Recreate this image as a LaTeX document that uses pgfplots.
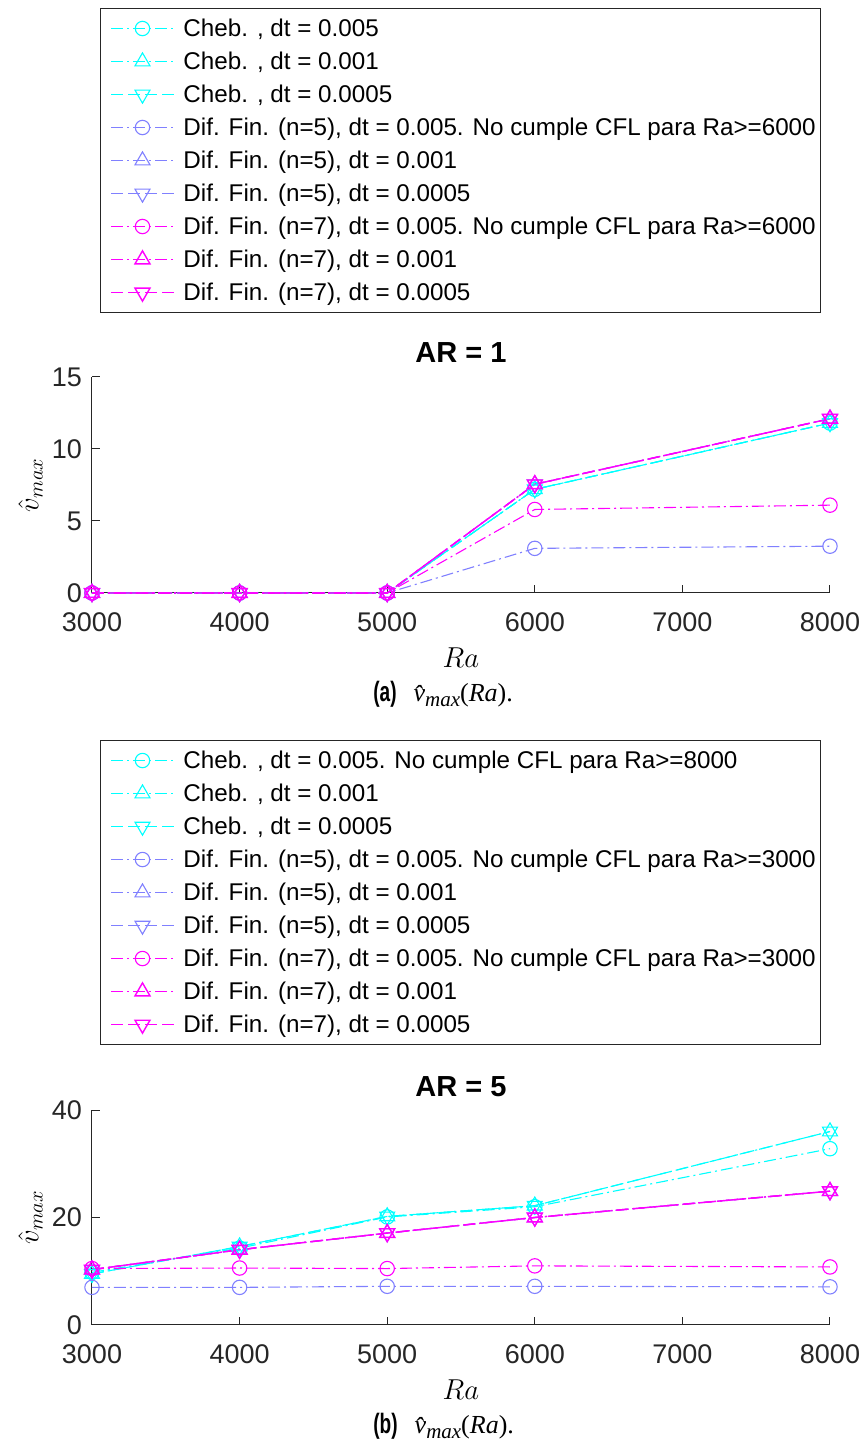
\documentclass[border=0pt]{standalone}
\usepackage{graphicx}
\usepackage{pgfplots}
\pgfplotsset{compat=1.18}
\usepackage{fontspec}
\setmainfont{Liberation Sans}
\newfontfamily\tms{Liberation Serif}
\definecolor{cyn}{rgb}{0,1,1}
\definecolor{lav}{rgb}{0.5,0.5,1}
\definecolor{mag}{rgb}{1,0,1}
\definecolor{axc}{rgb}{0.15,0.15,0.15}

\pgfplotsset{
  myaxis/.style={
    scale only axis, width=369pt,
    xmin=3000, xmax=8000, xtick={3000,4000,5000,6000,7000,8000},
    axis x line*=bottom, axis y line*=left,
    axis line style={axc,-,line width=0.5pt},
    tick align=inside, major tick length=4pt,
    tick style={axc,line width=0.5pt},
    ticklabel style={font=\fontsize{13.5}{15}\selectfont, text=axc},
    /pgf/number format/assume math mode=true,
    /pgf/number format/set thousands separator={},
    scaled ticks=false,
    xticklabel style={yshift=-6.5pt},
    yticklabel style={xshift=-1.5pt},
    title style={font=\bfseries\fontsize{14.5}{16}\selectfont, at={(axis description cs:0.5,1)}, anchor=base, yshift=1pt, inner sep=0pt},
    xlabel={$Ra$},
    ylabel={$\hat{v}_{max}$},
    label style={font=\fontsize{14}{16}\selectfont, inner sep=0pt},
    clip=false,
    legend cell align=left,
    legend style={draw=axc, line width=0.5pt, font=\fontsize{12.1}{14}\selectfont,
      anchor=north west, inner xsep=2.5pt, inner ysep=4pt, row sep=4.5pt,
      nodes={inner sep=0pt, text height=9.8pt, text depth=2.2pt},
      /tikz/every odd column/.append style={column sep=4.5pt}},
    legend image code/.code={\path (-2.5pt,0pt); \draw[mark repeat=2,mark phase=2,#1] plot coordinates {(0cm,0cm) (0.55cm,0cm) (1.1cm,0cm)};},
    every axis plot/.append style={line width=0.55pt, mark size=3.6pt},
    c1/.style={cyn, mark=o, dash pattern=on 6pt off 2pt on 1pt off 2pt, mark options={solid}},
    c2/.style={cyn, mark=triangle, dash pattern=on 6pt off 2pt on 1pt off 2pt, mark options={solid,scale=1.2}},
    c3/.style={cyn, mark=triangle, dash pattern=on 6pt off 2.5pt, mark options={solid,rotate=180,scale=1.2}},
    f1/.style={lav, mark=o, dash pattern=on 6pt off 2pt on 1pt off 2pt, mark options={solid}},
    f2/.style={lav, mark=triangle, dash pattern=on 6pt off 2pt on 1pt off 2pt, mark options={solid,scale=1.2}},
    f3/.style={lav, mark=triangle, dash pattern=on 6pt off 2.5pt, mark options={solid,rotate=180,scale=1.2}},
    g1/.style={mag, mark=o, dash pattern=on 6pt off 2pt on 1pt off 2pt, mark options={solid}},
    g2/.style={mag, mark=triangle, line width=0.7pt, dash pattern=on 6pt off 2pt on 1pt off 2pt, mark options={solid,scale=1.2}},
    g3/.style={mag, mark=triangle, line width=0.7pt, dash pattern=on 6pt off 2.5pt, mark options={solid,rotate=180,scale=1.2}},
  }
}

\newcommand{\capt}[1]{\fontsize{14}{16}\selectfont\scalebox{0.68}[1]{\bfseries (#1)}\hspace{8.5pt}{\fontsize{13}{15}\selectfont\tms\itshape v̂\raisebox{-0.4ex}{\fontsize{10.5}{12}\selectfont max}\upshape(\itshape Ra\upshape).}}

\begin{document}
\begin{tikzpicture}
\useasboundingbox (0,0) rectangle (431.5pt,720.5pt);

% ---------- AR = 1 ----------
\begin{axis}[myaxis, height=108pt, at={(46pt,424pt)}, anchor=south west,
  ymin=0, ymax=15, ytick={0,5,10,15},
  title={AR = 1},
  xlabel style={at={(axis description cs:0.5,-0.250)}, anchor=north},
  ylabel style={at={(axis description cs:-0.0664,0.5)}, anchor=south},
  legend style={at={(axis description cs:0.01084,2.7083)}},
]
\addplot+[c1] coordinates {(3000,0) (4000,0) (5000,0) (6000,7.2) (8000,11.8)};
\addlegendentry{Cheb. , dt = 0.005}
\addplot+[c2] coordinates {(3000,0) (4000,0) (5000,0) (6000,7.2) (8000,11.8)};
\addlegendentry{Cheb. , dt = 0.001}
\addplot+[c3] coordinates {(3000,0) (4000,0) (5000,0) (6000,7.2) (8000,11.8)};
\addlegendentry{Cheb. , dt = 0.0005}
\addplot+[f1] coordinates {(3000,0) (4000,0) (5000,0) (6000,3.1) (8000,3.25)};
\addlegendentry{Dif. Fin. (n=5), dt = 0.005. No cumple CFL para Ra>=6000}
\addplot+[f2] coordinates {(3000,0) (4000,0) (5000,0) (6000,7.55) (8000,12.1)};
\addlegendentry{Dif. Fin. (n=5), dt = 0.001}
\addplot+[f3] coordinates {(3000,0) (4000,0) (5000,0) (6000,7.55) (8000,12.1)};
\addlegendentry{Dif. Fin. (n=5), dt = 0.0005}
\addplot+[g1] coordinates {(3000,0) (4000,0) (5000,0) (6000,5.8) (8000,6.1)};
\addlegendentry{Dif. Fin. (n=7), dt = 0.005. No cumple CFL para Ra>=6000}
\addplot+[g2] coordinates {(3000,0) (4000,0) (5000,0) (6000,7.55) (8000,12.1)};
\addlegendentry{Dif. Fin. (n=7), dt = 0.001}
\addplot+[g3] coordinates {(3000,0) (4000,0) (5000,0) (6000,7.55) (8000,12.1)};
\addlegendentry{Dif. Fin. (n=7), dt = 0.0005}
\end{axis}

% ---------- AR = 5 ----------
\begin{axis}[myaxis, height=107.5pt, at={(46pt,58pt)}, anchor=south west,
  ymin=0, ymax=40, ytick={0,20,40},
  title={AR = 5},
  xlabel style={at={(axis description cs:0.5,-0.252)}, anchor=north},
  ylabel style={at={(axis description cs:-0.0664,0.5)}, anchor=south},
  legend style={at={(axis description cs:0.01084,2.7209)}},
]
\addplot+[c1] coordinates {(3000,9.8) (4000,14.3) (5000,20.1) (6000,22.0) (8000,32.8)};
\addlegendentry{Cheb. , dt = 0.005. No cumple CFL para Ra>=8000}
\addplot+[c2] coordinates {(3000,9.5) (4000,14.6) (5000,20.2) (6000,22.2) (8000,36.0)};
\addlegendentry{Cheb. , dt = 0.001}
\addplot+[c3] coordinates {(3000,9.5) (4000,14.6) (5000,20.2) (6000,22.2) (8000,36.0)};
\addlegendentry{Cheb. , dt = 0.0005}
\addplot+[f1] coordinates {(3000,7.0) (4000,7.0) (5000,7.2) (6000,7.2) (8000,7.1)};
\addlegendentry{Dif. Fin. (n=5), dt = 0.005. No cumple CFL para Ra>=3000}
\addplot+[f2] coordinates {(3000,10.3) (4000,14.0) (5000,17.1) (6000,20.0) (8000,24.9)};
\addlegendentry{Dif. Fin. (n=5), dt = 0.001}
\addplot+[f3] coordinates {(3000,10.3) (4000,14.0) (5000,17.1) (6000,20.0) (8000,24.9)};
\addlegendentry{Dif. Fin. (n=5), dt = 0.0005}
\addplot+[g1] coordinates {(3000,10.5) (4000,10.6) (5000,10.5) (6000,11.0) (8000,10.8)};
\addlegendentry{Dif. Fin. (n=7), dt = 0.005. No cumple CFL para Ra>=3000}
\addplot+[g2] coordinates {(3000,10.3) (4000,14.0) (5000,17.1) (6000,20.0) (8000,24.9)};
\addlegendentry{Dif. Fin. (n=7), dt = 0.001}
\addplot+[g3] coordinates {(3000,10.3) (4000,14.0) (5000,17.1) (6000,20.0) (8000,24.9)};
\addlegendentry{Dif. Fin. (n=7), dt = 0.0005}
\end{axis}

% ---------- captions ----------
\node[anchor=base west, inner sep=0pt] at (186.5pt,369.5pt) {\capt{a}};
\node[anchor=base west, inner sep=0pt] at (186.5pt,3.5pt) {\capt{b}};
\end{tikzpicture}
\end{document}
